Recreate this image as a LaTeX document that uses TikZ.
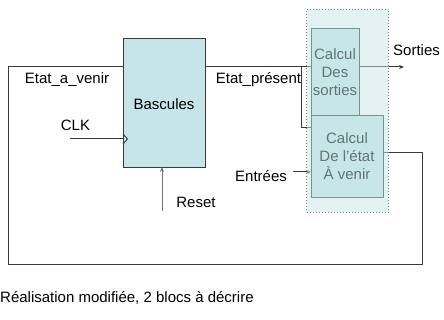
\documentclass[tikz,border=0pt]{standalone}
\usepackage{fontspec}
\setmainfont{Liberation Sans}
\usetikzlibrary{arrows.meta,calc}
\definecolor{boxfill}{HTML}{C5E5E8}
\definecolor{overfill}{HTML}{C7E7E9}
\definecolor{linec}{HTML}{3A3A3A}
\begin{document}
\begin{tikzpicture}[x=1pt,y=-1pt,
  every node/.style={font=\fontsize{15}{18}\selectfont, inner sep=0pt},
  blk/.style={draw=linec, line width=1pt, fill=boxfill, align=center, anchor=north west},
  wire/.style={draw=linec, line width=1pt},
  tip/.style={-{Stealth[length=5pt,width=4pt]}},
  lbl/.style={text=black}]
\useasboundingbox (0,0) rectangle (444,320);
% blocks
\node[blk, minimum width=82pt, minimum height=129pt] (basc) at (123,38) {};
\node[lbl] (bascT) at (164,104) {Bascules};
\node[blk, minimum width=48pt, minimum height=87pt] (calcS) at (311,28) {};
\node[blk, minimum width=72pt, minimum height=82pt] (calcE) at (311,115) {};
\node[lbl, align=center] (calcST) at (335,72.5) {Calcul\\Des\\sorties};
\node[lbl, align=center] (calcET) at (347,156) {Calcul\\De l’état\\À venir};
% coordinates
\coordinate (ep) at (205,67);
\coordinate (epS) at (311,67);
\coordinate (br) at (301,67);
\coordinate (brE) at (311,128);
\coordinate (sOut) at (404,67);
\coordinate (sIn) at (359,67);
\coordinate (fbA) at (383,153);
\coordinate (fbB) at (422,153);
\coordinate (fbC) at (422,264);
\coordinate (fbD) at (8,264);
\coordinate (fbE) at (8,67);
\coordinate (fbF) at (123,67);
\coordinate (clkA) at (70,139);
\coordinate (clkB) at (123,139);
\coordinate (rstA) at (162,211);
\coordinate (rstB) at (162,167);
\coordinate (inA) at (293,172);
\coordinate (inB) at (311,172);
% wires
\draw[wire] (ep) -- (epS);
\draw[wire] (br) |- (brE);
\draw[wire, tip] (sIn) -- (sOut);
\draw[wire] (fbA) -- (fbB) -- (fbC) -- (fbD) -- (fbE) -- (fbF);
\draw[wire] (clkA) -- (clkB);
\draw[wire, line width=0.9pt] (123,134) -- (127.5,139) -- (123,144);
\draw[wire, draw=gray!90!black, tip] (rstA) -- (rstB);
\draw[wire, tip] (inA) -- (inB);
% overlay
\node[draw=gray, dotted, line width=1pt, fill=overfill, fill opacity=0.5, minimum width=82pt, minimum height=203pt, anchor=north west] (grp) at (306,9) {};
% labels
\node[lbl] (l1) at (67,80) {Etat\_a\_venir};
\node[lbl] (l2) at (258.5,80) {Etat\_présent};
\node[lbl] (l3) at (75.5,125) {CLK};
\node[lbl] (l4) at (196,202) {Reset};
\node[lbl] (l5) at (416.5,50) {Sorties};
\node[lbl] (l6) at (261,176) {Entrées};
\node[lbl, anchor=west] (cap) at (0,298) {Réalisation modifiée, 2 blocs à décrire};
\end{tikzpicture}
\end{document}
